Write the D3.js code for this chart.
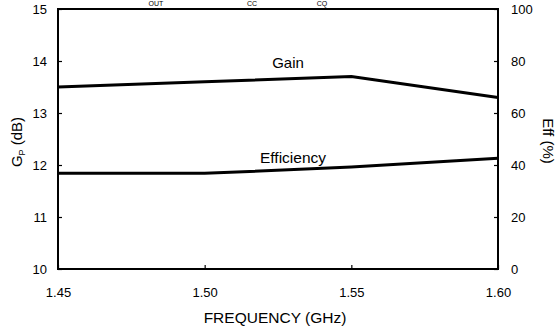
<!DOCTYPE html>
<html>
<head>
<meta charset="utf-8">
<script src="https://cdn.jsdelivr.net/npm/d3@7"></script>
<style>
  html, body { margin: 0; padding: 0; background: #fff; }
  svg { display: block; font-family: "Liberation Sans", Arial, Helvetica, sans-serif; }
</style>
</head>
<body>
<svg id="chart" width="558" height="329"></svg>
<script>
// Frequency points (GHz)
const frequency = [1.45, 1.50, 1.55, 1.60];
// Power gain (dB), left axis
const gain = [13.5, 13.6, 13.7, 13.3];
// Efficiency (%), right axis
const efficiency = [36.8, 36.8, 39.2, 42.6];

const xTicks = [1.45, 1.50, 1.55, 1.60];
const gainTicks = [10, 11, 12, 13, 14, 15];
const effTicks = [0, 20, 40, 60, 80, 100];

const svg = d3.select("#chart");
const plotLeft = 58, plotRight = 498, plotTop = 9, plotBottom = 269;

const x = d3.scaleLinear().domain([1.45, 1.60]).range([plotLeft, plotRight]);
const yG = d3.scaleLinear().domain([10, 15]).range([plotBottom, plotTop]);
const yE = d3.scaleLinear().domain([0, 100]).range([plotBottom, plotTop]);

// subscripts of the heading line above the plot
const heading = [["OUT", 156], ["CC", 252], ["CQ", 322]];
svg.selectAll("text.head").data(heading).join("text")
  .attr("class", "head")
  .attr("x", d => d[1]).attr("y", 5.5)
  .attr("text-anchor", "middle")
  .attr("font-size", 7)
  .text(d => d[0]);

function styleAxis(g) {
  g.select(".domain").remove();
  g.selectAll(".tick line").attr("stroke", "#000").attr("stroke-width", 1.2);
  g.selectAll(".tick text").attr("font-size", 13).attr("fill", "#000");
}

// Left axis: gain
svg.append("g").attr("transform", `translate(${plotLeft},0)`)
  .call(d3.axisLeft(yG).tickValues(gainTicks).tickFormat(d3.format("d"))
    .tickSizeInner(-4).tickSizeOuter(0).tickPadding(11))
  .call(styleAxis);

// Right axis: efficiency
svg.append("g").attr("transform", `translate(${plotRight},0)`)
  .call(d3.axisRight(yE).tickValues(effTicks).tickFormat(d3.format("d"))
    .tickSizeInner(-4).tickSizeOuter(0).tickPadding(13))
  .call(styleAxis);

// Bottom axis: frequency
svg.append("g").attr("transform", `translate(0,${plotBottom})`)
  .call(d3.axisBottom(x).tickValues(xTicks).tickFormat(d3.format(".2f"))
    .tickSizeInner(-4).tickSizeOuter(0).tickPadding(19))
  .call(styleAxis);

// Plot frame
svg.append("rect")
  .attr("x", plotLeft).attr("y", plotTop)
  .attr("width", plotRight - plotLeft).attr("height", plotBottom - plotTop)
  .attr("fill", "none").attr("stroke", "#000").attr("stroke-width", 2);

// Curves
const gainLine = d3.line().x((d, i) => x(frequency[i])).y(d => yG(d));
const effLine = d3.line().x((d, i) => x(frequency[i])).y(d => yE(d));

svg.append("path").datum(gain)
  .attr("d", gainLine).attr("fill", "none")
  .attr("stroke", "#000").attr("stroke-width", 3);
svg.append("path").datum(efficiency)
  .attr("d", effLine).attr("fill", "none")
  .attr("stroke", "#000").attr("stroke-width", 3);

// Curve labels
svg.append("text").attr("x", 288).attr("y", 68)
  .attr("text-anchor", "middle").attr("font-size", 15).text("Gain");
svg.append("text").attr("x", 293).attr("y", 163)
  .attr("text-anchor", "middle").attr("font-size", 15.5).text("Efficiency");

// Axis titles
svg.append("text").attr("x", 275).attr("y", 323)
  .attr("text-anchor", "middle").attr("font-size", 15.5).text("FREQUENCY (GHz)");

const yl = svg.append("text")
  .attr("transform", "translate(22,142) rotate(-90)")
  .attr("text-anchor", "middle").attr("font-size", 15);
yl.append("tspan").text("G");
yl.append("tspan").attr("font-size", 9).attr("dy", 3).text("P");
yl.append("tspan").attr("dy", -3).text(" (dB)");

svg.append("text")
  .attr("transform", "translate(543,141) rotate(90)")
  .attr("text-anchor", "middle").attr("font-size", 15).text("Eff (%)");
</script>
</body>
</html>
